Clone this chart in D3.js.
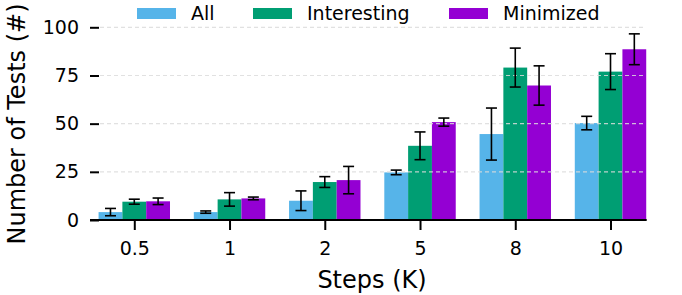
<!DOCTYPE html>
<html>
<head>
<meta charset="utf-8">
<script src="https://cdn.jsdelivr.net/npm/d3@7"></script>
<style>
  body { margin: 0; background: #fff; }
  svg text { font-family: "DejaVu Sans", sans-serif; fill: #000; }
</style>
</head>
<body>
<div class="chart"></div>
<script>
// categories and series
const steps = ['0.5', '1', '2', '5', '8', '10']
const seriesNames = ['All', 'Interesting', 'Minimized']
const allMean = [4.1, 4.1, 10.0, 24.7, 44.6, 50.3]
const allErr = [1.9, 0.6, 5.1, 1.2, 13.5, 3.5]
const intMean = [9.5, 10.7, 19.7, 38.5, 79.1, 77.0]
const intErr = [1.3, 3.5, 2.8, 7.2, 10.1, 9.3]
const minMean = [9.7, 11.2, 20.7, 50.8, 69.8, 88.6]
const minErr = [1.7, 0.7, 7.1, 2.1, 10.2, 8.0]
const yTicks = [0, 25, 50, 75, 100]
const colors = ['#56B4E9', '#009E73', '#9400D3']

const width = 682
const height = 295

const svg = d3.select('.chart')
    .append('svg')
    .attr('width', width)
    .attr('height', height)

// index scale for the groups
const x = d3.scaleLinear()
    .domain([-0.465, 5.38])
    .range([90, 646.7])

const y = d3.scaleLinear()
    .domain([0, 100])
    .range([220, 27.3])

const barW = 0.25
const series = [
    { name: seriesNames[0], mean: allMean, err: allErr, color: colors[0], off: -barW },
    { name: seriesNames[1], mean: intMean, err: intErr, color: colors[1], off: 0 },
    { name: seriesNames[2], mean: minMean, err: minErr, color: colors[2], off: barW }
]

// bars
series.forEach(s => {
    svg.append('g')
        .selectAll('rect')
        .data(s.mean)
        .enter()
        .append('rect')
        .attr('x', (d, i) => x(i + s.off - barW / 2))
        .attr('y', d => y(d))
        .attr('width', x(barW) - x(0))
        .attr('height', d => y(0) - y(d))
        .style('fill', s.color)
})

// grid lines on top of the bars
svg.append('g')
    .selectAll('line')
    .data(yTicks)
    .enter()
    .append('line')
    .attr('x1', 100)
    .attr('x2', 646)
    .attr('y1', d => y(d))
    .attr('y2', d => y(d))
    .style('stroke', '#dcdcdc')
    .style('stroke-opacity', 0.85)
    .style('stroke-width', 1.2)
    .style('stroke-dasharray', '4,3')

// error bars
const capW = 5.5
series.forEach(s => {
    const g = svg.append('g')
        .style('stroke', '#000')
        .style('stroke-width', 1.6)
    s.mean.forEach((m, i) => {
        const cx = x(i + s.off)
        const lo = y(m - s.err[i])
        const hi = y(m + s.err[i])
        g.append('line').attr('x1', cx).attr('x2', cx).attr('y1', lo).attr('y2', hi)
        g.append('line').attr('x1', cx - capW).attr('x2', cx + capW).attr('y1', lo).attr('y2', lo)
        g.append('line').attr('x1', cx - capW).attr('x2', cx + capW).attr('y1', hi).attr('y2', hi)
    })
})

// x axis
const xAxis = d3.axisBottom(x)
    .tickValues(d3.range(steps.length))
    .tickFormat(i => steps[i])
    .tickSize(10)
    .tickPadding(12)
const gx = svg.append('g')
    .attr('transform', `translate(0,${y(0)})`)
    .call(xAxis)
gx.select('.domain').attr('d', `M${x.range()[0]},0H${x.range()[1]}`).style('stroke-width', 2)
gx.selectAll('.tick line').style('stroke-width', 2)
gx.selectAll('text').style('font-size', '19px').style('font-family', '"DejaVu Sans", sans-serif')

// y axis, no spine
const yAxis = d3.axisLeft(y)
    .tickValues(yTicks)
    .tickSize(9)
    .tickPadding(11)
const gy = svg.append('g')
    .attr('transform', 'translate(99,0)')
    .call(yAxis)
gy.select('.domain').remove()
gy.selectAll('.tick line').style('stroke-width', 2)
gy.selectAll('text').style('font-size', '19px').style('font-family', '"DejaVu Sans", sans-serif')

// axis labels
svg.append('text')
    .attr('x', 372)
    .attr('y', 288)
    .style('text-anchor', 'middle')
    .style('font-size', '24px')
    .text('Steps (K)')

svg.append('text')
    .attr('transform', 'translate(25,124) rotate(-90)')
    .style('text-anchor', 'middle')
    .style('font-size', '24px')
    .text('Number of Tests (#)')

// legend
const legendX = [137, 253, 449]
series.forEach((s, i) => {
    svg.append('rect')
        .attr('x', legendX[i])
        .attr('y', 8)
        .attr('width', 39)
        .attr('height', 11)
        .style('fill', s.color)
    svg.append('text')
        .attr('x', legendX[i] + 54)
        .attr('y', 20)
        .style('font-size', '19px')
        .text(s.name)
})
</script>
</body>
</html>
